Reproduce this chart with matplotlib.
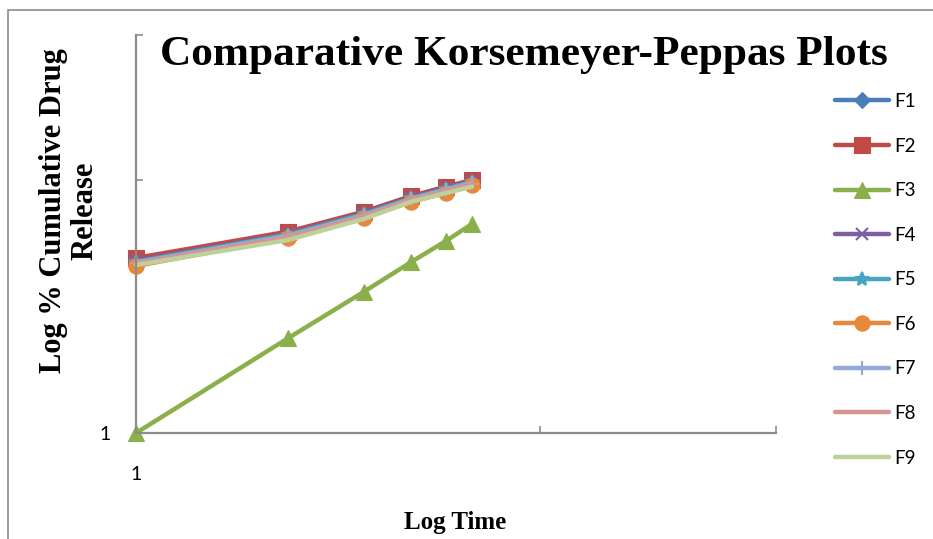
import matplotlib.pyplot as plt
from matplotlib.patches import Rectangle

# Log time values (x) and log % cumulative drug release per formulation
log_time = [1, 2.38, 3.66, 4.80, 5.85, 6.79]
F1 = [4.85, 6.20, 7.45, 8.60, 9.35, 9.95]
F2 = [4.92, 6.25, 7.49, 8.64, 9.41, 10.0]
F3 = [1.0, 2.37, 3.61, 4.74, 5.74, 6.70]
F4 = [4.80, 6.12, 7.38, 8.52, 9.28, 9.88]
F5 = [4.75, 6.08, 7.33, 8.47, 9.22, 9.85]
F6 = [4.57, 5.90, 7.08, 8.20, 8.88, 9.55]
F7 = [4.72, 6.02, 7.25, 8.42, 9.15, 9.75]
F8 = [4.68, 5.95, 7.18, 8.35, 9.05, 9.65]
F9 = [4.61, 5.79, 7.01, 8.20, 8.88, 9.41]

labels = ['F1', 'F2', 'F3', 'F4', 'F5', 'F6', 'F7', 'F8', 'F9']
series = [F1, F2, F3, F4, F5, F6, F7, F8, F9]
colors = ['#4A7EBB', '#BE4B48', '#8BAF4A', '#7D5FA0', '#47A5C0',
          '#E8883A', '#93AAD4', '#D69593', '#BCD29A']
markers = ['D', 's', '^', 'x', '*', 'o', '|', '_', None]
msizes = [8, 11, 12, 9, 10, 11, 10, 10, 0]

fig = plt.figure(figsize=(9.33, 5.39), dpi=100)
W, H = 933, 539

# outer chart frame
fig.patches.append(Rectangle((8 / W, -0.05), 1.0, (H - 10) / H + 0.05,
                             transform=fig.transFigure, fill=False,
                             edgecolor='#8c8c8c', linewidth=1.2))

ax = fig.add_axes([136 / W, (H - 433) / H, 640 / W, 398 / H])

for lab, ys, c, m, ms in zip(labels, series, colors, markers, msizes):
    ax.plot(log_time, ys, color=c, linewidth=3.2, marker=m, markersize=ms,
            markeredgewidth=1.5 if m in ('x', '|', '_', '*') else 0.8,
            markeredgecolor=c, label=lab, solid_capstyle='round')

ax.set_xscale('log')
ax.set_yscale('log')
xmax = 38.4
ymax = 37.4
ax.set_xlim(1, xmax)
ax.set_ylim(1, ymax)
ax.set_xticks([1, 10, xmax])
ax.set_xticklabels(['1', '', ''])
ax.set_yticks([1, 10, ymax])
ax.set_yticklabels(['1', '', ''])
ax.minorticks_off()
ax.tick_params(axis='both', direction='in', length=5, width=1.2,
               color='#8c8c8c', labelsize=14)
ax.tick_params(axis='x', pad=24)
ax.tick_params(axis='y', pad=18)
for lbl in ax.get_xticklabels() + ax.get_yticklabels():
    lbl.set_family('Lato')

for s in ['top', 'right']:
    ax.spines[s].set_visible(False)
for s in ['left', 'bottom']:
    ax.spines[s].set_color('#8c8c8c')
    ax.spines[s].set_linewidth(1.6)

for ln in ax.lines:
    ln.set_clip_on(False)

fig.text(524 / W, 1 - 55 / H, 'Comparative Korsemeyer-Peppas Plots',
         ha='center', va='center', fontsize=31.2, fontweight='bold',
         family='Liberation Serif')
fig.text(455 / W, 1 - 523 / H, 'Log Time', ha='center', va='center',
         fontsize=18, fontweight='bold', family='Liberation Serif')
fig.text(69 / W, 1 - 211 / H, 'Log % Cumulative Drug\nRelease',
         ha='center', va='center', rotation=90, fontsize=22,
         fontweight='bold', family='Liberation Serif', linespacing=1.1)

leg = fig.legend(loc='upper left', bbox_to_anchor=(835 / W, 1 - 93 / H),
                 frameon=False, prop={'family': 'Lato', 'size': 13.5},
                 handlelength=2.9, handletextpad=0.25, labelspacing=1.47,
                 borderaxespad=0, borderpad=0)

plt.savefig('out.png', dpi=100)
